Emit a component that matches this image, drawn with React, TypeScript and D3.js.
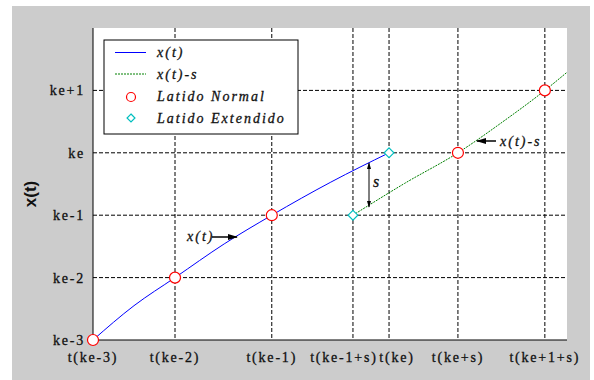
import React from "react";
import * as d3 from "d3";

// x-axis tick positions (time units) and labels
const tTicks = [0, 1, 2.18, 3.17, 3.61, 4.45, 5.51];
const tLabels = ["t(ke-3)", "t(ke-2)", "t(ke-1)", "t(ke-1+s)", "t(ke)", "t(ke+s)", "t(ke+1+s)"];
// y-axis ticks
const yTicks = [-3, -2, -1, 0, 1];
const yLabels = ["ke-3", "ke-2", "ke-1", "ke", "ke+1"];

// blue curve x(t)
const xtT = [0, 0.5, 1, 1.6, 2.18, 2.9, 3.61];
const xtV = [-3, -2.45, -2, -1.46, -1, -0.47, 0];
// green curve x(t)-s
const xsT = [3.17, 3.8, 4.45, 5.0, 5.51, 5.78];
const xsV = [-1, -0.49, 0, 0.5, 1, 1.29];

// normal beats (circles)
const normT = [0, 1, 2.18, 4.45, 5.51];
const normV = [-3, -2, -1, 0, 1];
// extended beats (diamonds)
const extT = [3.17, 3.61];
const extV = [-1, 0];

const W = 594, H = 380;
const L = 93, R = 567, T = 28, B = 340;
// horizontal nudges of crowded tick labels (layout only)
const labelDx = [0, 0, 0, -9, 8, 0, 0];

export default function App() {
  const x = d3.scaleLinear().domain([0, 5.78]).range([L, R]);
  const y = d3.scaleLinear().domain([-3, 2]).range([B, T]);
  const line = d3.line<[number, number]>().x(d => x(d[0])).y(d => y(d[1])).curve(d3.curveMonotoneX);
  const blue = xtT.map((t, i) => [t, xtV[i]] as [number, number]);
  const green = xsT.map((t, i) => [t, xsV[i]] as [number, number]);
  const diamond = d3.symbol().type(d3.symbolDiamond2).size(60)();
  const tickFont = { fontFamily: "'Liberation Serif', serif", fontSize: 14, letterSpacing: 1.8, fill: "#111", stroke: "#111", strokeWidth: 0.3 } as any;
  const legFont = { fontFamily: "'Liberation Serif', serif", fontSize: 14, fontStyle: "italic", letterSpacing: 2, fill: "#111", stroke: "#111", strokeWidth: 0.3 } as any;

  const sX = 369;
  const sTop = 163, sBot = 207;

  return (
    <svg width={W} height={H} style={{ position: "absolute", left: 0, top: 0 }}>
      <defs>
        <marker id="ah" viewBox="0 0 10 10" refX="9" refY="5" markerWidth="7" markerHeight="7" orient="auto-start-reverse">
          <path d="M0,2 L10,5 L0,8 z" fill="#000" />
        </marker>
      </defs>
      <rect x={12} y={6} width={578} height={374} fill="#cccccc" />
      <rect x={L} y={T} width={R - L} height={B - T} fill="#fff" />
      {/* grid */}
      {tTicks.slice(1).map((t, i) => (
        <line key={"gx" + i} x1={x(t)} x2={x(t)} y1={T} y2={B} stroke="#000" strokeWidth={1} strokeDasharray="4,2" />
      ))}
      {yTicks.slice(1).map((v, i) => (
        <line key={"gy" + i} x1={L} x2={R} y1={y(v)} y2={y(v)} stroke="#000" strokeWidth={1} strokeDasharray="4,2" />
      ))}
      {/* axes */}
      <line x1={L} x2={L} y1={T} y2={B} stroke="#000" />
      <line x1={L} x2={R} y1={B} y2={B} stroke="#000" />
      {/* tick labels */}
      {yTicks.map((v, i) => (
        <text key={"yl" + i} x={85} y={y(v) + 5} textAnchor="end" style={tickFont}>{yLabels[i]}</text>
      ))}
      {tTicks.map((t, i) => (
        <text key={"xl" + i} x={x(t) + labelDx[i]} y={362} textAnchor="middle" style={tickFont}>{tLabels[i]}</text>
      ))}
      <text transform="translate(36,194) rotate(-90)" textAnchor="middle" style={{ fontFamily: "'Liberation Sans', Arial, sans-serif", fontSize: 17, fontWeight: "bold", fill: "#111" }}>x(t)</text>
      {/* curves */}
      <path d={line(blue) || ""} fill="none" stroke="#0000ff" strokeWidth={1} />
      <path d={line(green) || ""} fill="none" stroke="#008000" strokeWidth={1} strokeDasharray="2,1" />
      {/* markers */}
      {normT.map((t, i) => (
        <circle key={"c" + i} cx={x(t)} cy={y(normV[i])} r={5.5} fill="#fff" stroke="#ff0000" strokeWidth={1.2} />
      ))}
      {extT.map((t, i) => (
        <path key={"d" + i} d={diamond || ""} transform={`translate(${x(t)},${y(extV[i])})`} fill="#fff" stroke="#00bfbf" strokeWidth={1.2} />
      ))}
      {/* annotations */}
      <text x={187} y={241} style={legFont}>x(t)</text>
      <line x1={212} x2={237} y1={237} y2={237} stroke="#000" strokeWidth={1.5} markerEnd="url(#ah)" />
      <text x={500} y={146} style={legFont}>x(t)-s</text>
      <line x1={496} x2={477} y1={141} y2={141} stroke="#000" strokeWidth={1.5} markerEnd="url(#ah)" />
      <line x1={sX} x2={sX} y1={sTop} y2={sBot} stroke="#000" strokeWidth={1} markerStart="url(#ah)" markerEnd="url(#ah)" />
      <text x={373} y={187} style={{ ...legFont, fontSize: 16 }}>s</text>
      {/* legend */}
      <rect x={104} y={40} width={194} height={94} fill="#fff" stroke="#000" strokeWidth={1} />
      <line x1={115} x2={146} y1={52.5} y2={52.5} stroke="#0000ff" />
      <text x={157} y={57} style={legFont}>x(t)</text>
      <line x1={115} x2={146} y1={74} y2={74} stroke="#008000" strokeDasharray="2,1" />
      <text x={157} y={78.5} style={legFont}>x(t)-s</text>
      <circle cx={131} cy={97} r={4.5} fill="#fff" stroke="#ff0000" strokeWidth={1.2} />
      <text x={157} y={101} style={legFont}>Latido Normal</text>
      <path d={d3.symbol().type(d3.symbolDiamond2).size(40)() || ""} transform="translate(131,118)" fill="#fff" stroke="#00bfbf" strokeWidth={1.2} />
      <text x={157} y={122.5} style={legFont}>Latido Extendido</text>
    </svg>
  );
}
